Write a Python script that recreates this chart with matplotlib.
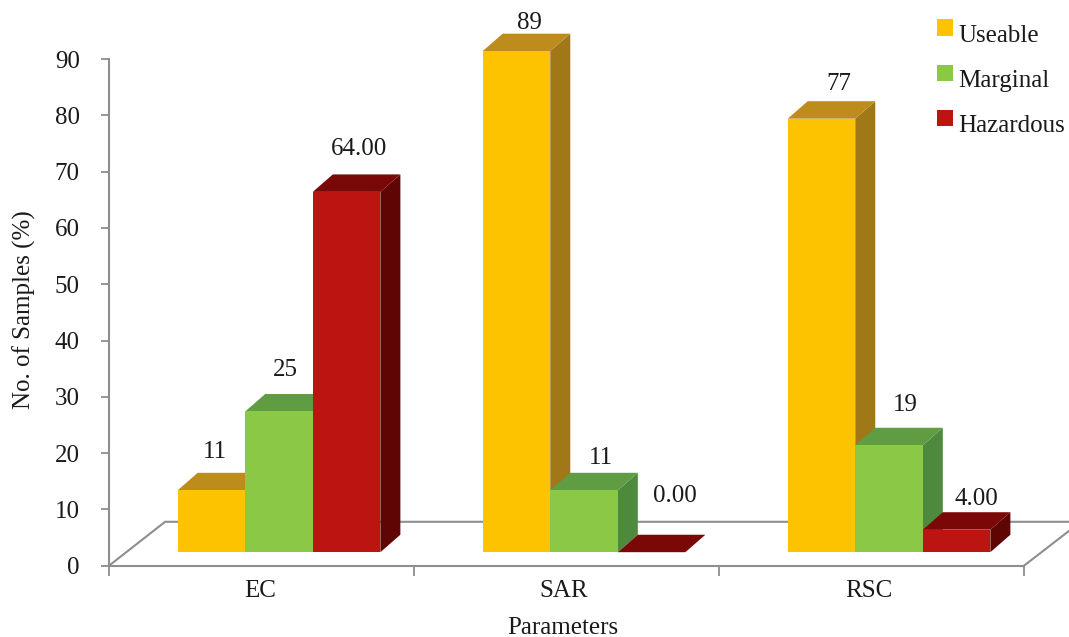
import matplotlib
matplotlib.use('Agg')
import matplotlib.pyplot as plt
from matplotlib.patches import Patch, Polygon, Rectangle

plt.rcParams['font.family'] = ['Liberation Serif', 'DejaVu Serif']

# data
parameters = ['EC', 'SAR', 'RSC']
useable = [11, 89, 77]
marginal = [25, 11, 19]
hazardous = [64, 0, 4]
useable_labels = ['11', '89', '77']
marginal_labels = ['25', '11', '19']
hazardous_labels = ['64.00', '0.00', '4.00']
y_ticks = [0, 10, 20, 30, 40, 50, 60, 70, 80, 90]

# front, top, side
USEABLE_COLORS = ('#FDC300', '#BD8C1B', '#A07818')
MARGINAL_COLORS = ('#8AC846', '#5F9C42', '#4E8A3E')
HAZARD_COLORS = ('#BC1410', '#7A0806', '#5F0604')
AXIS_COLOR = '#8E8E8E'
TEXT_COLOR = '#1A1A1A'
FONT_SIZE = 18

# 3D look, all in data units
BAR_W = 0.2215
DEPTH_X = 0.0656
DEPTH_Y = 3.1
BASE_Y = 2.4
GROUP_SHIFT = 0.0575

# pixel offsets of the value labels from the centre of each bar top
NUDGE = {
    'Useable': [(3, 38), (13, 28), (17, 35)],
    'Marginal': [(6, 41), (17, 32), (16, 40)],
    'Hazardous': [(12, 43), (23, 56), (20, 31)],
}


def bar3d(ax, x, value, colors, order):
    """Front, top and side faces of one extruded bar."""
    top = BASE_Y + value
    front, roof, side = colors
    ax.add_patch(Polygon([(x + BAR_W, BASE_Y), (x + BAR_W + DEPTH_X, BASE_Y + DEPTH_Y),
                          (x + BAR_W + DEPTH_X, top + DEPTH_Y), (x + BAR_W, top)],
                         closed=True, fc=side, ec='none', zorder=order, clip_on=False))
    ax.add_patch(Polygon([(x, top), (x + DEPTH_X, top + DEPTH_Y),
                          (x + BAR_W + DEPTH_X, top + DEPTH_Y), (x + BAR_W, top)],
                         closed=True, fc=roof, ec='none', zorder=order, clip_on=False))
    ax.add_patch(Rectangle((x, BASE_Y), BAR_W, value, fc=front, ec='none',
                           zorder=order + 0.1, clip_on=False))


fig = plt.figure(figsize=(10.69, 6.37), dpi=100)
ax = fig.add_axes([109 / 1069, (637 - 565.7) / 637, 915 / 1069, 506.7 / 637])
ax.set_xlim(0, 3)
ax.set_ylim(0, 90)

# floor outline
ax.plot([0, 0.184, 3.148], [0, 7.8, 7.8], color=AXIS_COLOR, lw=1.5, zorder=1,
        clip_on=False, solid_joinstyle='miter')
ax.plot([3, 3.148], [0, 6.2], color=AXIS_COLOR, lw=1.5, zorder=1, clip_on=False)

series = [('Useable', useable, useable_labels, USEABLE_COLORS),
          ('Marginal', marginal, marginal_labels, MARGINAL_COLORS),
          ('Hazardous', hazardous, hazardous_labels, HAZARD_COLORS)]

for i in range(len(parameters)):
    left = i + 0.5 + GROUP_SHIFT - 1.5 * BAR_W
    for j, (name, values, labels, colors) in enumerate(series):
        x = left + j * BAR_W
        bar3d(ax, x, values[i], colors, 3 + j)
        ax.annotate(labels[i], xy=(x + BAR_W / 2, BASE_Y + values[i]), xytext=NUDGE[name][i],
                    textcoords='offset pixels', ha='center', va='center',
                    fontsize=FONT_SIZE, color=TEXT_COLOR, zorder=10, annotation_clip=False)

ax.spines['top'].set_visible(False)
ax.spines['right'].set_visible(False)
for side in ['left', 'bottom']:
    ax.spines[side].set_color(AXIS_COLOR)
    ax.spines[side].set_linewidth(1.5)
    ax.spines[side].set_zorder(2)

ax.set_yticks(y_ticks)
ax.tick_params(axis='y', length=6, width=1.3, color=AXIS_COLOR, labelcolor=TEXT_COLOR,
               labelsize=FONT_SIZE, pad=15)
ax.set_xticks([0, 1, 2, 3])
ax.set_xticklabels([])
ax.tick_params(axis='x', which='major', length=7.5, width=1.3, color=AXIS_COLOR)
ax.set_xticks([0.495, 1.49, 2.49], minor=True)
ax.set_xticklabels(parameters, minor=True)
ax.tick_params(axis='x', which='minor', length=0, labelcolor=TEXT_COLOR,
               labelsize=FONT_SIZE, pad=10.5)

fig.text(563 / 1069, 1 - 628 / 637, 'Parameters', ha='center', va='center',
         fontsize=FONT_SIZE, color=TEXT_COLOR)
fig.text(24 / 1069, 1 - 310 / 637, 'No. of Samples (%)', ha='center', va='center',
         rotation=90, fontsize=FONT_SIZE, color=TEXT_COLOR)

handles = [Patch(fc=c[0], ec='none', label=name) for name, _, _, c in series]
legend = fig.legend(handles=handles, loc='upper left', bbox_to_anchor=(937 / 1069, 1 - 25 / 637),
                    bbox_transform=fig.transFigure, frameon=False, fontsize=FONT_SIZE,
                    labelcolor=TEXT_COLOR, handlelength=0.65, handleheight=0.65,
                    handletextpad=0.2, labelspacing=0.92, borderpad=0, borderaxespad=0)
# swatches sit a little above the text baseline
for handle in legend.legend_handles:
    handle.set_y(handle.get_y() + 4)

fig.savefig('out.png', dpi=100)
plt.close(fig)
